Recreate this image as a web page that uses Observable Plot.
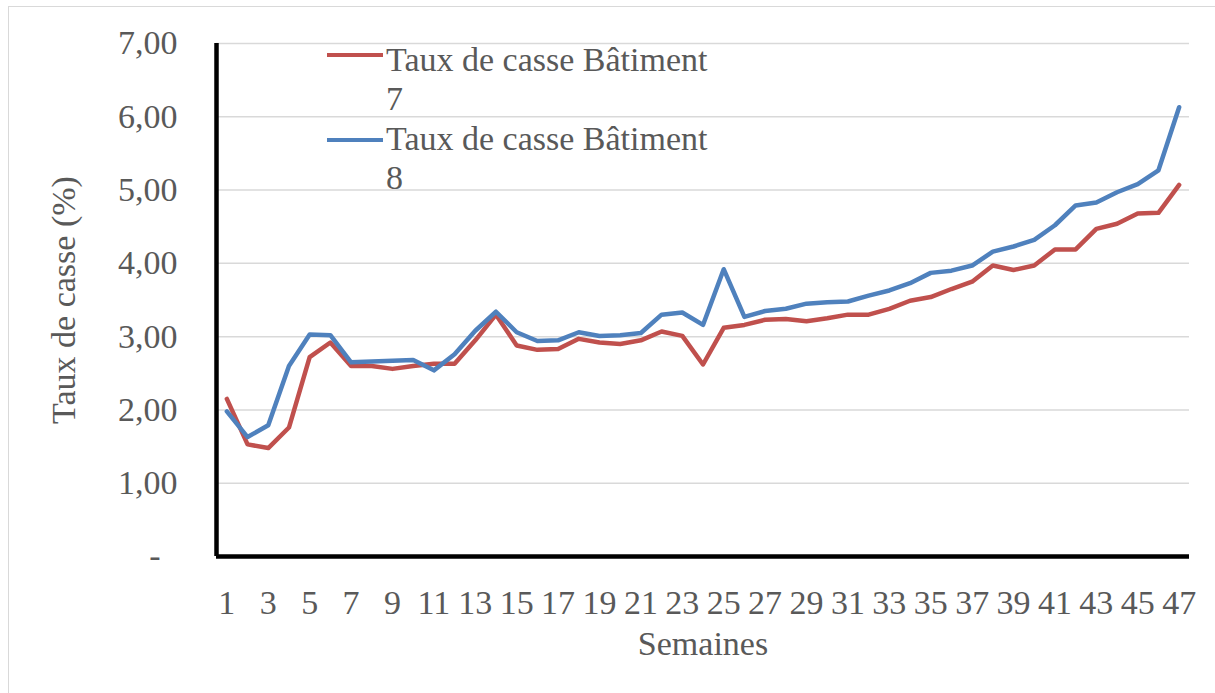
<!DOCTYPE html>
<html><head><meta charset="utf-8">
<script src="https://cdn.jsdelivr.net/npm/d3@7"></script>
<script src="https://cdn.jsdelivr.net/npm/@observablehq/plot@0.6"></script>
<style>
html,body{margin:0;padding:0;background:#fff;overflow:hidden;}
#wrap{position:relative;width:1215px;height:693px;overflow:hidden;font-family:"Liberation Serif","Times New Roman",serif;background:#fff;}
#border{position:absolute;left:8px;top:6px;width:1400px;height:900px;border:1.5px solid #d9d9d9;box-sizing:border-box;}
#chart{position:absolute;left:0;top:0;}
.leg{position:absolute;left:386px;width:345px;font-size:34px;line-height:39.5px;color:#595959;white-space:normal;}
.sw{position:absolute;left:327px;width:56px;height:4.5px;}
</style></head>
<body><div id="wrap"><div id="border"></div><div id="chart"></div><div id="legend"></div></div>
<script>
const weeks = [1,2,3,4,5,6,7,8,9,10,11,12,13,14,15,16,17,18,19,20,21,22,23,24,25,26,27,28,29,30,31,32,33,34,35,36,37,38,39,40,41,42,43,44,45,46,47];
const bat7 = [2.15,1.53,1.48,1.76,2.72,2.92,2.60,2.60,2.56,2.60,2.63,2.63,2.95,3.30,2.88,2.82,2.83,2.97,2.92,2.90,2.95,3.07,3.01,2.62,3.12,3.16,3.23,3.24,3.21,3.25,3.30,3.30,3.38,3.49,3.54,3.65,3.75,3.97,3.91,3.97,4.19,4.19,4.47,4.54,4.68,4.69,5.07];
const bat8 = [1.98,1.63,1.79,2.60,3.03,3.02,2.65,2.66,2.67,2.68,2.54,2.76,3.08,3.34,3.06,2.94,2.95,3.06,3.01,3.02,3.05,3.30,3.33,3.16,3.92,3.27,3.35,3.38,3.45,3.47,3.48,3.56,3.63,3.73,3.87,3.90,3.97,4.16,4.23,4.32,4.52,4.79,4.83,4.97,5.08,5.27,6.13];
const seriesNames = ["Taux de casse Bâtiment 7", "Taux de casse Bâtiment 8"];
const seriesColors = ["#C0504D", "#4F81BD"];
const xTicks = [1,3,5,7,9,11,13,15,17,19,21,23,25,27,29,31,33,35,37,39,41,43,45,47];
const yTicks = [0,1,2,3,4,5,6,7];
const yTickLabels = ["-\u2002","1,00","2,00","3,00","4,00","5,00","6,00","7,00"];
const xTitle = "Semaines";
const yTitle = "Taux de casse (%)";

const d7 = weeks.map((w,i)=>({week:w, value:bat7[i]}));
const d8 = weeks.map((w,i)=>({week:w, value:bat8[i]}));

const chart = Plot.plot({
  width:1215, height:693,
  marginLeft:216, marginRight:26, marginTop:43, marginBottom:137,
  style:{fontFamily:"'Liberation Serif','Times New Roman',serif", fontSize:"34px", color:"#595959", background:"transparent", overflow:"visible"},
  x:{domain:[0.5,47.5]},
  y:{domain:[0,7]},
  marks:[
    Plot.gridY({ticks: yTicks.filter(v=>v>0), stroke:"#d9d9d9", strokeOpacity:1, strokeWidth:1.5}),
    Plot.axisY({ticks: yTicks, tickSize:0, tickPadding:39, tickFormat:d=>yTickLabels[yTicks.indexOf(d)], label:null, fill:"#595959"}),
    Plot.axisX({ticks: xTicks, tickSize:0, tickPadding:33, tickFormat:d=>String(d), label:null, fill:"#595959"}),
    Plot.line(d7, {x:"week", y:"value", stroke:seriesColors[0], strokeWidth:4.5, strokeLinejoin:"round"}),
    Plot.line(d8, {x:"week", y:"value", stroke:seriesColors[1], strokeWidth:4.5, strokeLinejoin:"round"}),
    Plot.ruleX([0.5], {stroke:"#000", strokeWidth:4.5, y1:0, y2:7}),
    Plot.ruleY([0], {stroke:"#000", strokeWidth:4.5}),
    Plot.text([xTitle], {frameAnchor:"bottom", dy:88, fill:"#595959", lineAnchor:"middle", textAnchor:"middle"}),
    Plot.text([yTitle], {frameAnchor:"left", dx:-152, rotate:-90, fill:"#595959", lineAnchor:"middle", textAnchor:"middle"})
  ]
});
document.getElementById("chart").appendChild(chart);

const legend = document.getElementById("legend");
const itemTops = [39.5, 118.8];
const swatchY = [55, 140];
seriesNames.forEach((name,i)=>{
  const sw = document.createElement("div");
  sw.className = "sw";
  sw.style.top = (swatchY[i]-2.25)+"px";
  sw.style.background = seriesColors[i];
  legend.appendChild(sw);
  const t = document.createElement("div");
  t.className = "leg";
  t.style.top = itemTops[i]+"px";
  t.textContent = name;
  legend.appendChild(t);
});
</script>
</body></html>
